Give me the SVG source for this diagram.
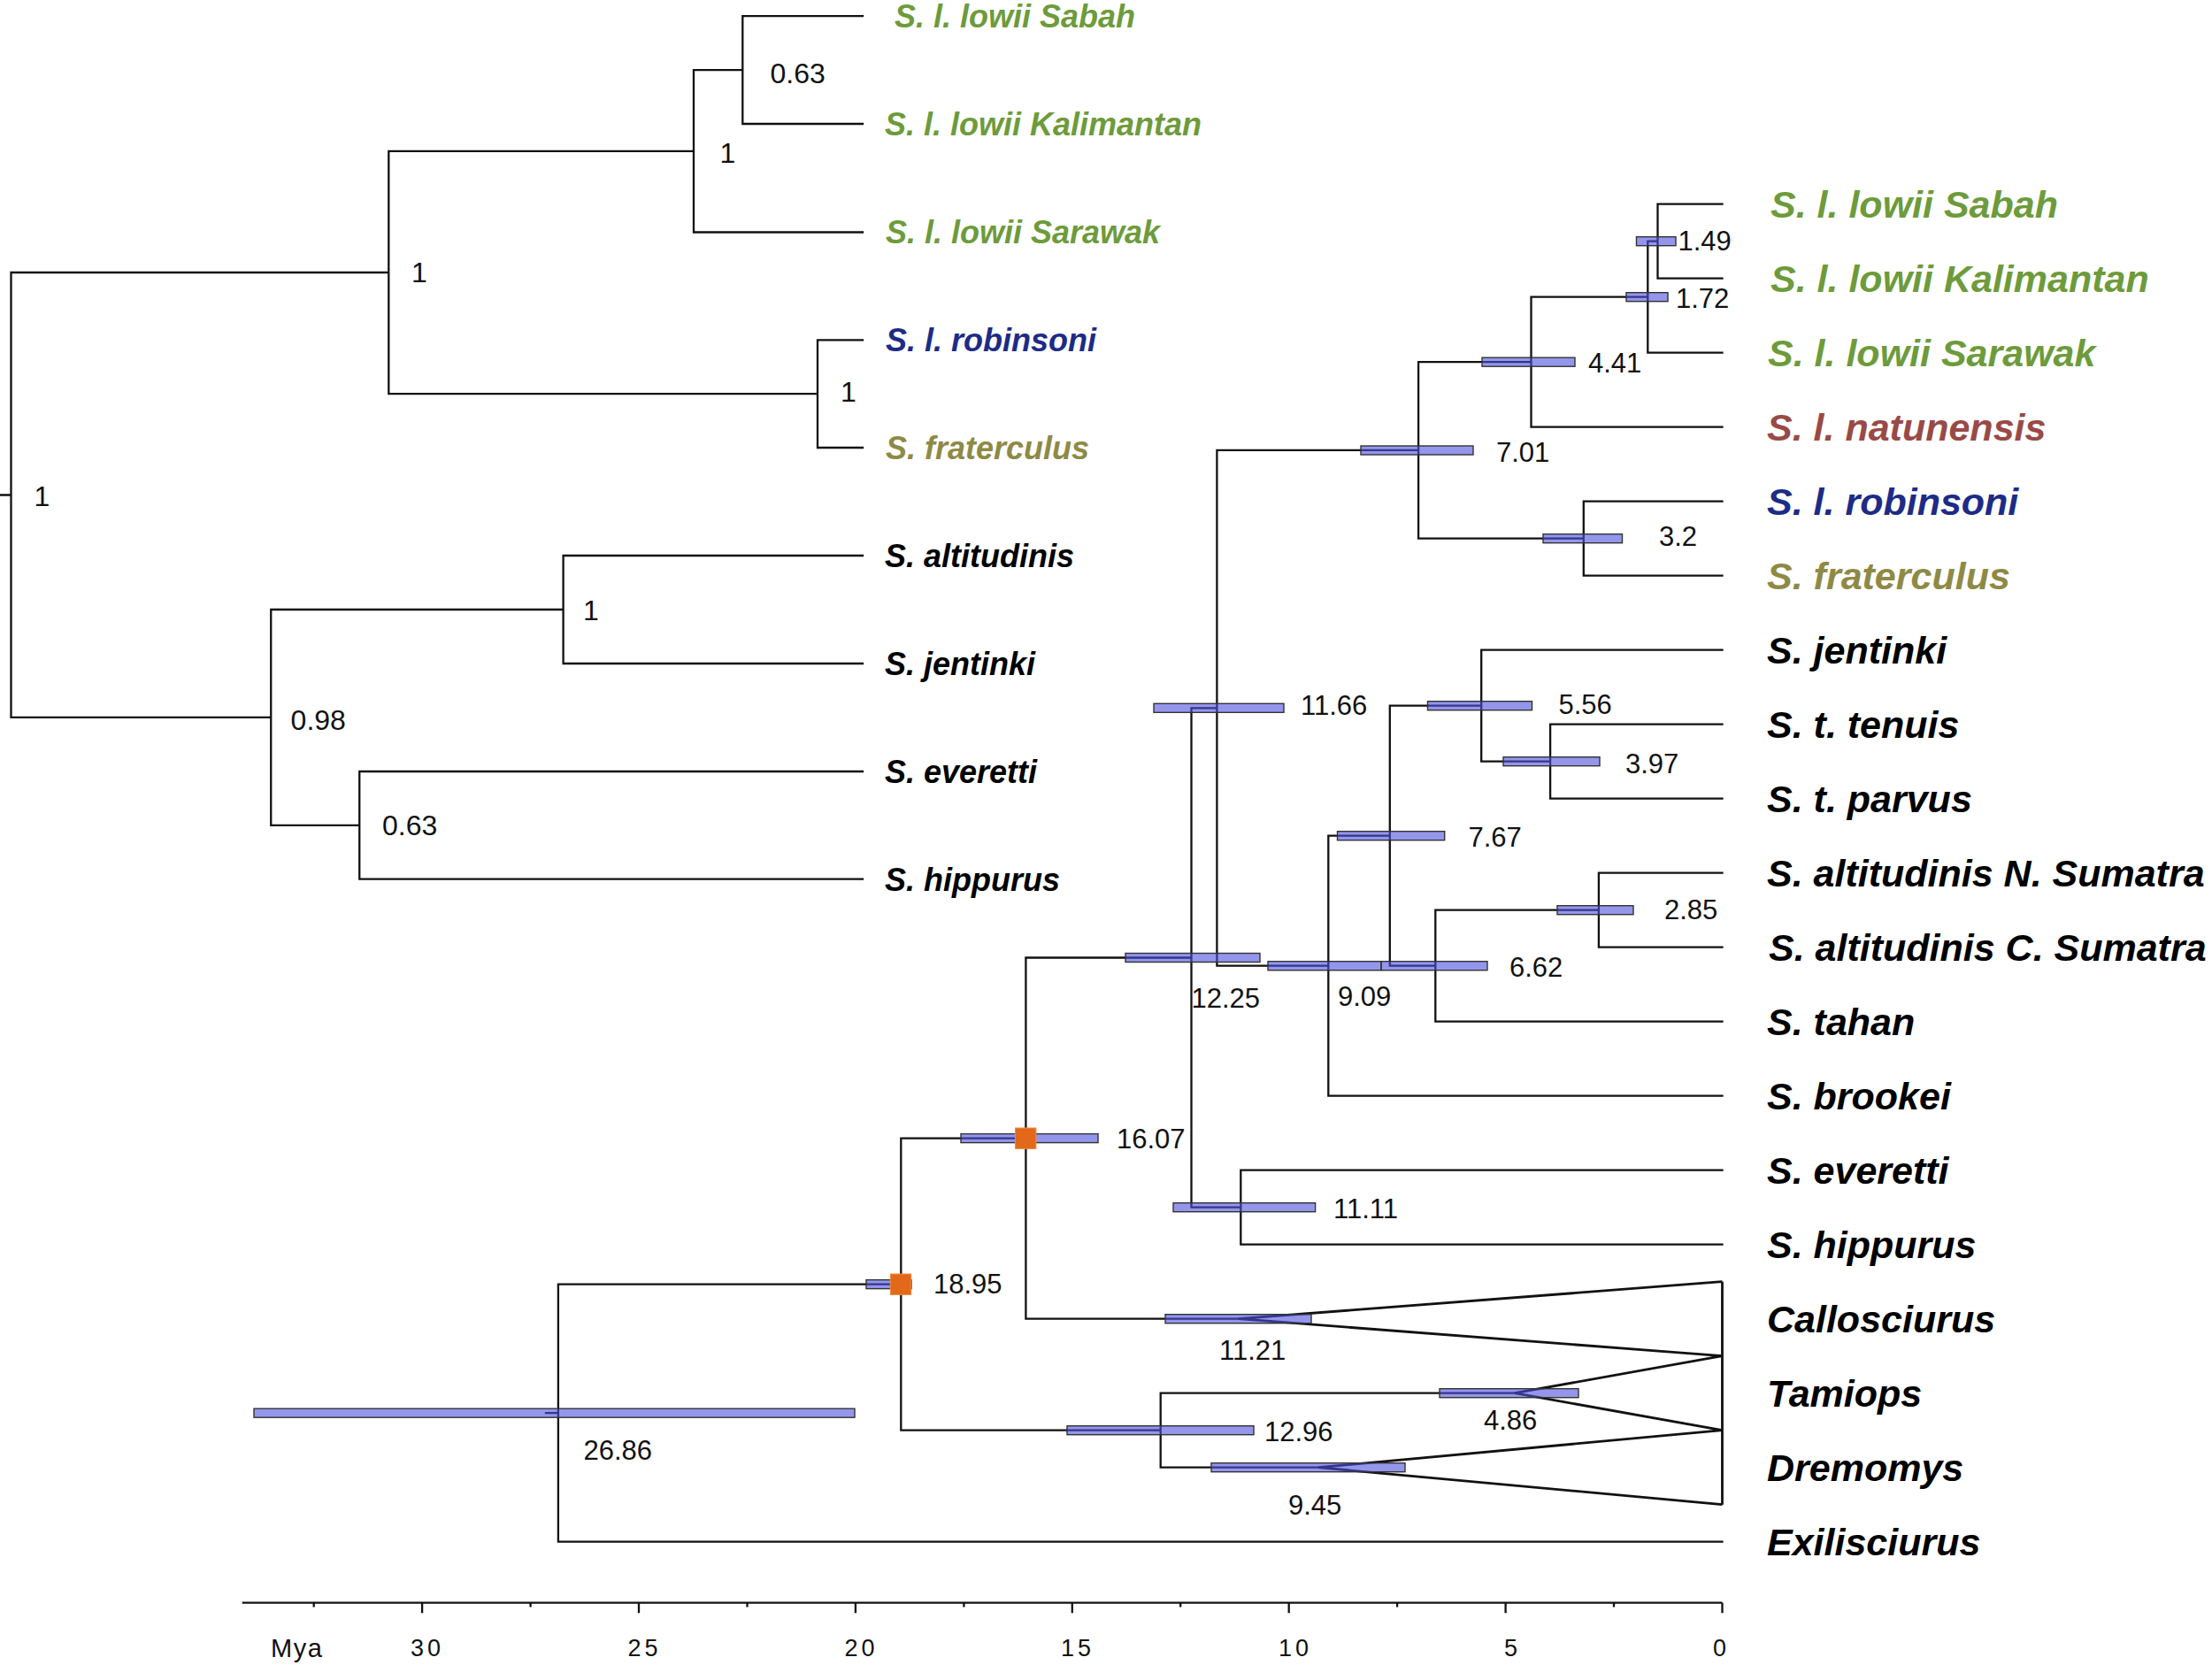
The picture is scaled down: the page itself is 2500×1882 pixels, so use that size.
<svg xmlns="http://www.w3.org/2000/svg" width="2500" height="1882" viewBox="0 0 2500 1882">
<style>
.br{fill:none;stroke:#111;stroke-width:2.3;stroke-linecap:square}
.tri{fill:none;stroke:#111;stroke-width:2.8;stroke-linejoin:miter}
.ax{fill:none;stroke:#111;stroke-width:2.3}
.bar{fill:#4c50e0;fill-opacity:0.6;stroke:#333;stroke-width:1.4}
.hpd{fill:#e2691a;stroke:#f08a40;stroke-width:1}
.age{font-family:"Liberation Sans",Arial,sans-serif;font-size:31px;fill:#111}
.pp{font-family:"Liberation Sans",Arial,sans-serif;font-size:32px;fill:#111}
.tl{font-family:"Liberation Sans",Arial,sans-serif;font-size:36px;font-weight:bold;font-style:italic;fill:#000}
.tr{font-family:"Liberation Sans",Arial,sans-serif;font-size:43px;font-weight:bold;font-style:italic;fill:#000}
.axl{font-family:"Liberation Sans",Arial,sans-serif;font-size:27px;letter-spacing:4px;fill:#111}
.mya{font-family:"Liberation Sans",Arial,sans-serif;font-size:29px;letter-spacing:1.5px;fill:#111}
.g{fill:#6d9b3b}.nat{fill:#994a46}.rob{fill:#1d2b87}.fra{fill:#8e8a46}
</style>
<rect width="2500" height="1882" fill="#fff"/>

<!-- connectors -->
<g id="connectors">
  <!-- left cladogram -->
  <path class="br" d="M0 559.5H12.5M12.5 308V810.9M12.5 308H439.3M439.3 170.8V445.15M439.3 170.8H784M784 79.1V262.5M784 79.1H839.3M839.3 18.2V140M839.3 18.2H975M839.3 140H975M784 262.5H975M439.3 445.15H924M924 384.3V506M924 384.3H975M924 506H975M12.5 810.9H306.25M306.25 689V932.85M306.25 689H636.6M636.6 628V750M636.6 628H975M636.6 750H975M306.25 932.85H406.25M406.25 872V993.7M406.25 872H975M406.25 993.7H975"/>
  <!-- right chronogram -->
  <path class="br" d="M617 1597.2H630.9M630.9 1451.65V1742.7M630.9 1742.7H1946.5M630.9 1451.65H1018.3M1018.3 1286.6V1616.7M1018.3 1286.6H1159.4M1018.3 1616.7H1311.7M1159.4 1082.5V1490.7M1159.4 1082.5H1346.5M1159.4 1490.7H1400M1346.5 800.3V1364.7M1346.5 800.3H1375.4M1346.5 1364.7H1402.3M1375.4 508.95V1091.7M1375.4 508.95H1603.1M1375.4 1091.7H1501.3M1603.1 409.2V608.7M1603.1 409.2H1730.5M1603.1 608.7H1789.8M1730.5 335.7V482.7M1730.5 335.7H1862.3M1730.5 482.7H1946.5M1862.3 272.7V398.7M1862.3 272.7H1873.5M1862.3 398.7H1946.5M1873.5 230.7V314.7M1873.5 230.7H1946.5M1873.5 314.7H1946.5M1789.8 566.7V650.7M1789.8 566.7H1946.5M1789.8 650.7H1946.5M1501.3 944.7V1238.7M1501.3 944.7H1570.8M1501.3 1238.7H1946.5M1570.8 797.7V1091.7M1570.8 797.7H1674.2M1570.8 1091.7H1622.3M1674.2 734.7V860.7M1674.2 734.7H1946.5M1674.2 860.7H1752.1M1752.1 818.7V902.7M1752.1 818.7H1946.5M1752.1 902.7H1946.5M1622.3 1028.7V1154.7M1622.3 1028.7H1806.9M1622.3 1154.7H1946.5M1806.9 986.7V1070.7M1806.9 986.7H1946.5M1806.9 1070.7H1946.5M1402.3 1322.7V1406.7M1402.3 1322.7H1946.5M1402.3 1406.7H1946.5M1311.7 1574.7V1658.7M1311.7 1574.7H1712M1311.7 1658.7H1490"/>
  <path class="tri" d="M1946.5 1448.7L1400 1490.7L1946.5 1532.7M1946.5 1532.7L1712 1574.7L1946.5 1616.7M1946.5 1616.7L1490 1658.7L1946.5 1700.7M1946.5 1448.7V1700.7"/>
</g>

<!-- left cladogram support values -->
<g id="left-support">
  <text class="pp" x="38.5" y="572">1</text>
  <text class="pp" x="465" y="318.6">1</text>
  <text class="pp" x="813.5" y="184">1</text>
  <text class="pp" x="870.5" y="93.5">0.63</text>
  <text class="pp" x="950" y="453.6">1</text>
  <text class="pp" x="328.6" y="825">0.98</text>
  <text class="pp" x="659" y="701">1</text>
  <text class="pp" x="432" y="944">0.63</text>
</g>

<!-- left cladogram tips -->
<g id="L-sabah"><text class="tl g" x="1011" y="31.1">S. l. lowii Sabah</text></g>
<g id="L-kalimantan"><text class="tl g" x="1000" y="152.9">S. l. lowii Kalimantan</text></g>
<g id="L-sarawak"><text class="tl g" x="1001" y="275.4">S. l. lowii Sarawak</text></g>
<g id="L-robinsoni"><text class="tl rob" x="1001" y="397.2">S. l. robinsoni</text></g>
<g id="L-fraterculus"><text class="tl fra" x="1001" y="518.9">S. fraterculus</text></g>
<g id="L-altitudinis"><text class="tl" x="1000" y="640.9">S. altitudinis</text></g>
<g id="L-jentinki"><text class="tl" x="1000" y="762.9">S. jentinki</text></g>
<g id="L-everetti"><text class="tl" x="1000" y="884.9">S. everetti</text></g>
<g id="L-hippurus"><text class="tl" x="1000" y="1006.6">S. hippurus</text></g>

<!-- chronogram internal nodes: HPD bars + ages -->
<g id="n2686"><rect class="bar" x="287" y="1592.2" width="679" height="10"/><text class="age" x="659.5" y="1650">26.86</text></g>
<g id="n1895"><rect class="bar" x="979" y="1446.65" width="51" height="10"/><rect class="hpd" x="1006.3" y="1440" width="23.4" height="23.4"/><text class="age" x="1055" y="1462">18.95</text></g>
<g id="n1607"><rect class="bar" x="1086" y="1281.6" width="155" height="10"/><rect class="hpd" x="1147.5" y="1275" width="23.4" height="23.4"/><text class="age" x="1262" y="1298">16.07</text></g>
<g id="n1225"><rect class="bar" x="1272" y="1077.5" width="152" height="10"/><text class="age" x="1346.5" y="1139">12.25</text></g>
<g id="n1166"><rect class="bar" x="1304" y="795.3" width="147" height="10"/><text class="age" x="1470" y="808">11.66</text></g>
<g id="n701"><rect class="bar" x="1538" y="504" width="127" height="10"/><text class="age" x="1691" y="522">7.01</text></g>
<g id="n441"><rect class="bar" x="1675" y="404.2" width="105" height="10"/><text class="age" x="1795" y="421">4.41</text></g>
<g id="n172"><rect class="bar" x="1838" y="330.7" width="47" height="10"/><text class="age" x="1894" y="348">1.72</text></g>
<g id="n149"><rect class="bar" x="1849.5" y="267.7" width="44.5" height="10"/><text class="age" x="1896.5" y="283">1.49</text></g>
<g id="n32"><rect class="bar" x="1744" y="603.7" width="89.5" height="10"/><text class="age" x="1875" y="617">3.2</text></g>
<g id="n909"><rect class="bar" x="1433" y="1086.7" width="128" height="10"/><text class="age" x="1512" y="1137">9.09</text></g>
<g id="n662"><rect class="bar" x="1561" y="1086.7" width="120" height="10"/><text class="age" x="1706" y="1104">6.62</text></g>
<g id="n767"><rect class="bar" x="1511.5" y="939.7" width="121.2" height="10"/><text class="age" x="1659.5" y="957">7.67</text></g>
<g id="n556"><rect class="bar" x="1613.5" y="792.7" width="118" height="10"/><text class="age" x="1761.5" y="807">5.56</text></g>
<g id="n397"><rect class="bar" x="1699" y="855.7" width="109" height="10"/><text class="age" x="1837" y="874">3.97</text></g>
<g id="n285"><rect class="bar" x="1760" y="1023.7" width="86" height="10"/><text class="age" x="1881" y="1039">2.85</text></g>
<g id="n1111"><rect class="bar" x="1326" y="1359.7" width="160.6" height="10"/><text class="age" x="1507" y="1377">11.11</text></g>
<g id="n1121"><rect class="bar" x="1317" y="1485.7" width="165" height="10"/><text class="age" x="1378" y="1537">11.21</text></g>
<g id="n486"><rect class="bar" x="1627" y="1569.7" width="157" height="10"/><text class="age" x="1677" y="1616">4.86</text></g>
<g id="n1296"><rect class="bar" x="1206" y="1611.7" width="211" height="10"/><text class="age" x="1429" y="1629">12.96</text></g>
<g id="n945"><rect class="bar" x="1369" y="1653.7" width="219" height="10"/><text class="age" x="1456" y="1712">9.45</text></g>

<!-- chronogram tips -->
<g id="R-sabah"><text class="tr g" x="2001" y="246">S. l. lowii Sabah</text></g>
<g id="R-kalimantan"><text class="tr g" x="2001" y="330">S. l. lowii Kalimantan</text></g>
<g id="R-sarawak"><text class="tr g" x="1998" y="414">S. l. lowii Sarawak</text></g>
<g id="R-natunensis"><text class="tr nat" x="1997" y="498">S. l. natunensis</text></g>
<g id="R-robinsoni"><text class="tr rob" x="1997" y="582">S. l. robinsoni</text></g>
<g id="R-fraterculus"><text class="tr fra" x="1997" y="666">S. fraterculus</text></g>
<g id="R-jentinki"><text class="tr" x="1997" y="750">S. jentinki</text></g>
<g id="R-tenuis"><text class="tr" x="1997" y="834">S. t. tenuis</text></g>
<g id="R-parvus"><text class="tr" x="1997" y="918">S. t. parvus</text></g>
<g id="R-altN"><text class="tr" x="1997" y="1002">S. altitudinis N. Sumatra</text></g>
<g id="R-altC"><text class="tr" x="1999" y="1086">S. altitudinis C. Sumatra</text></g>
<g id="R-tahan"><text class="tr" x="1997" y="1170">S. tahan</text></g>
<g id="R-brookei"><text class="tr" x="1997" y="1254">S. brookei</text></g>
<g id="R-everetti"><text class="tr" x="1997" y="1338">S. everetti</text></g>
<g id="R-hippurus"><text class="tr" x="1997" y="1422">S. hippurus</text></g>
<g id="R-callosciurus"><text class="tr" x="1997" y="1506">Callosciurus</text></g>
<g id="R-tamiops"><text class="tr" x="1997" y="1590">Tamiops</text></g>
<g id="R-dremomys"><text class="tr" x="1997" y="1674">Dremomys</text></g>
<g id="R-exilisciurus"><text class="tr" x="1997" y="1758">Exilisciurus</text></g>

<!-- time axis -->
<g id="axis">
  <path class="ax" d="M273.7 1811.7H1946.5"/>
  <path class="ax" d="M1946.5 1811.7V1823.3M1701.6 1811.7V1823.3M1456.7 1811.7V1823.3M1211.8 1811.7V1823.3M966.9 1811.7V1823.3M722 1811.7V1823.3M477.1 1811.7V1823.3"/>
  <path class="ax" d="M1824 1811.7V1816.5M1579.1 1811.7V1816.5M1334.2 1811.7V1816.5M1089.4 1811.7V1816.5M844.5 1811.7V1816.5M599.6 1811.7V1816.5M354.7 1811.7V1816.5"/>
  <text class="mya" x="306" y="1873">Mya</text>
  <text class="axl" x="464" y="1872">30</text>
  <text class="axl" x="709.5" y="1872">25</text>
  <text class="axl" x="954.5" y="1872">20</text>
  <text class="axl" x="1199" y="1872">15</text>
  <text class="axl" x="1445" y="1872">10</text>
  <text class="axl" x="1700" y="1872">5</text>
  <text class="axl" x="1936" y="1872">0</text>
</g>
</svg>
